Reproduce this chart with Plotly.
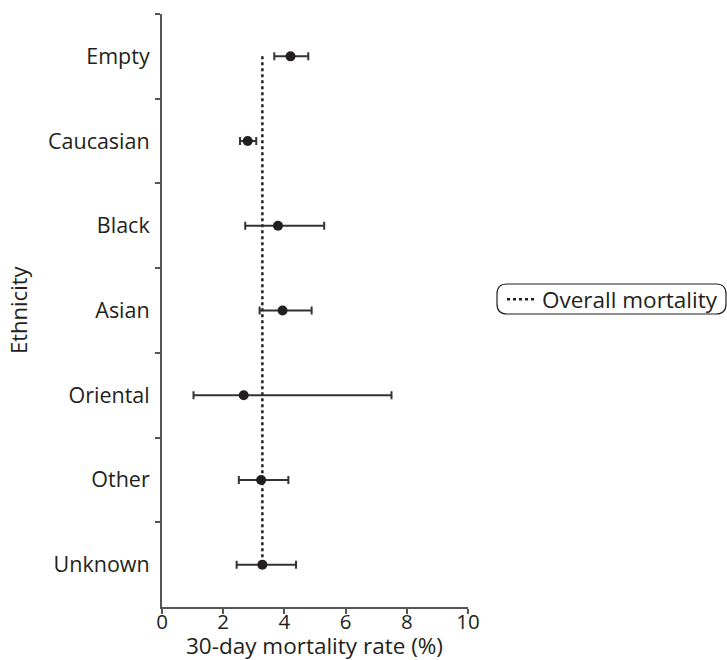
import plotly.graph_objects as go

# 30-day mortality by ethnicity with 95% confidence intervals
groups = ["Empty", "Caucasian", "Black", "Asian", "Oriental", "Other", "Unknown"]
rate = [4.20, 2.80, 3.79, 3.94, 2.67, 3.24, 3.28]
ci_low = [3.67, 2.55, 2.72, 3.19, 1.03, 2.51, 2.44]
ci_high = [4.78, 3.08, 5.30, 4.89, 7.50, 4.13, 4.38]
overall_rate = 3.28

FONT = "Open Sans"
INK = "#231f20"
AXIS = "#555555"

err_plus = [h - r for h, r in zip(ci_high, rate)]
err_minus = [r - l for r, l in zip(rate, ci_low)]

fig = go.Figure()

# overall mortality reference line, spanning first to last group
fig.add_trace(go.Scatter(
    x=[overall_rate, overall_rate], y=[groups[0], groups[-1]],
    mode="lines", name="Overall mortality",
    line=dict(color=INK, width=2.5, dash="dot"),
    showlegend=True, hoverinfo="skip",
))

# group estimates with CI whiskers
fig.add_trace(go.Scatter(
    x=rate, y=groups, mode="markers", showlegend=False,
    marker=dict(size=10, color=INK),
    error_x=dict(type="data", symmetric=False, array=err_plus,
                 arrayminus=err_minus, color="#333333", thickness=2, width=4),
))

# rounded frame around the legend
L, R, T, B = 497, 726, 284, 314
pw, ph, ml, mb = 306, 593, 162, 53
def px(x):
    return (x - ml) / pw
def py(y):
    return (660 - mb - y) / ph
r = 10
path = (f"M{px(L + r)},{py(T)} L{px(R - r)},{py(T)} Q{px(R)},{py(T)} {px(R)},{py(T + r)} "
        f"L{px(R)},{py(B - r)} Q{px(R)},{py(B)} {px(R - r)},{py(B)} "
        f"L{px(L + r)},{py(B)} Q{px(L)},{py(B)} {px(L)},{py(B - r)} "
        f"L{px(L)},{py(T + r)} Q{px(L)},{py(T)} {px(L + r)},{py(T)} Z")
fig.add_shape(type="path", xref="paper", yref="paper", path=path,
              line=dict(color=INK, width=1.2))

# axis titles
fig.add_annotation(text="Ethnicity", xref="paper", yref="paper",
                   x=px(18), y=py(310), xanchor="center", yanchor="middle",
                   textangle=-90, showarrow=False,
                   font=dict(family=FONT, size=22, color=INK))
fig.add_annotation(text="30-day mortality rate (%)", xref="paper", yref="paper",
                   x=px(314), y=py(645), xanchor="center", yanchor="middle",
                   showarrow=False,
                   font=dict(family=FONT, size=22.5, color=INK))

fig.update_layout(
    width=727, height=660,
    margin=dict(l=ml, r=727 - ml - pw, t=14, b=mb, autoexpand=False),
    paper_bgcolor="white", plot_bgcolor="white",
    font=dict(family=FONT, size=18, color=INK),
    legend=dict(x=px(502), y=py(278), xanchor="left", yanchor="top",
                bgcolor="rgba(0,0,0,0)", borderwidth=0,
                font=dict(family=FONT, size=22.5, color=INK)),
    xaxis=dict(range=[0, 10], tickvals=[0, 2, 4, 6, 8, 10],
               showgrid=False, zeroline=False, showline=True,
               linecolor=AXIS, linewidth=2, ticks="outside", ticklen=5,
               tickcolor=AXIS, tickwidth=1.5, automargin=False,
               ticklabelstandoff=-10,
               tickfont=dict(family=FONT, size=20.5, color=INK)),
    yaxis=dict(categoryorder="array", categoryarray=groups,
               range=[6.5, -0.5], tickson="boundaries",
               showgrid=False, zeroline=False, showline=True,
               linecolor=AXIS, linewidth=2, ticks="outside", ticklen=5,
               tickcolor=AXIS, tickwidth=1.5, ticklabelstandoff=6,
               automargin=False,
               tickfont=dict(family=FONT, size=21.5, color=INK)),
)

fig.write_html("out.html")
